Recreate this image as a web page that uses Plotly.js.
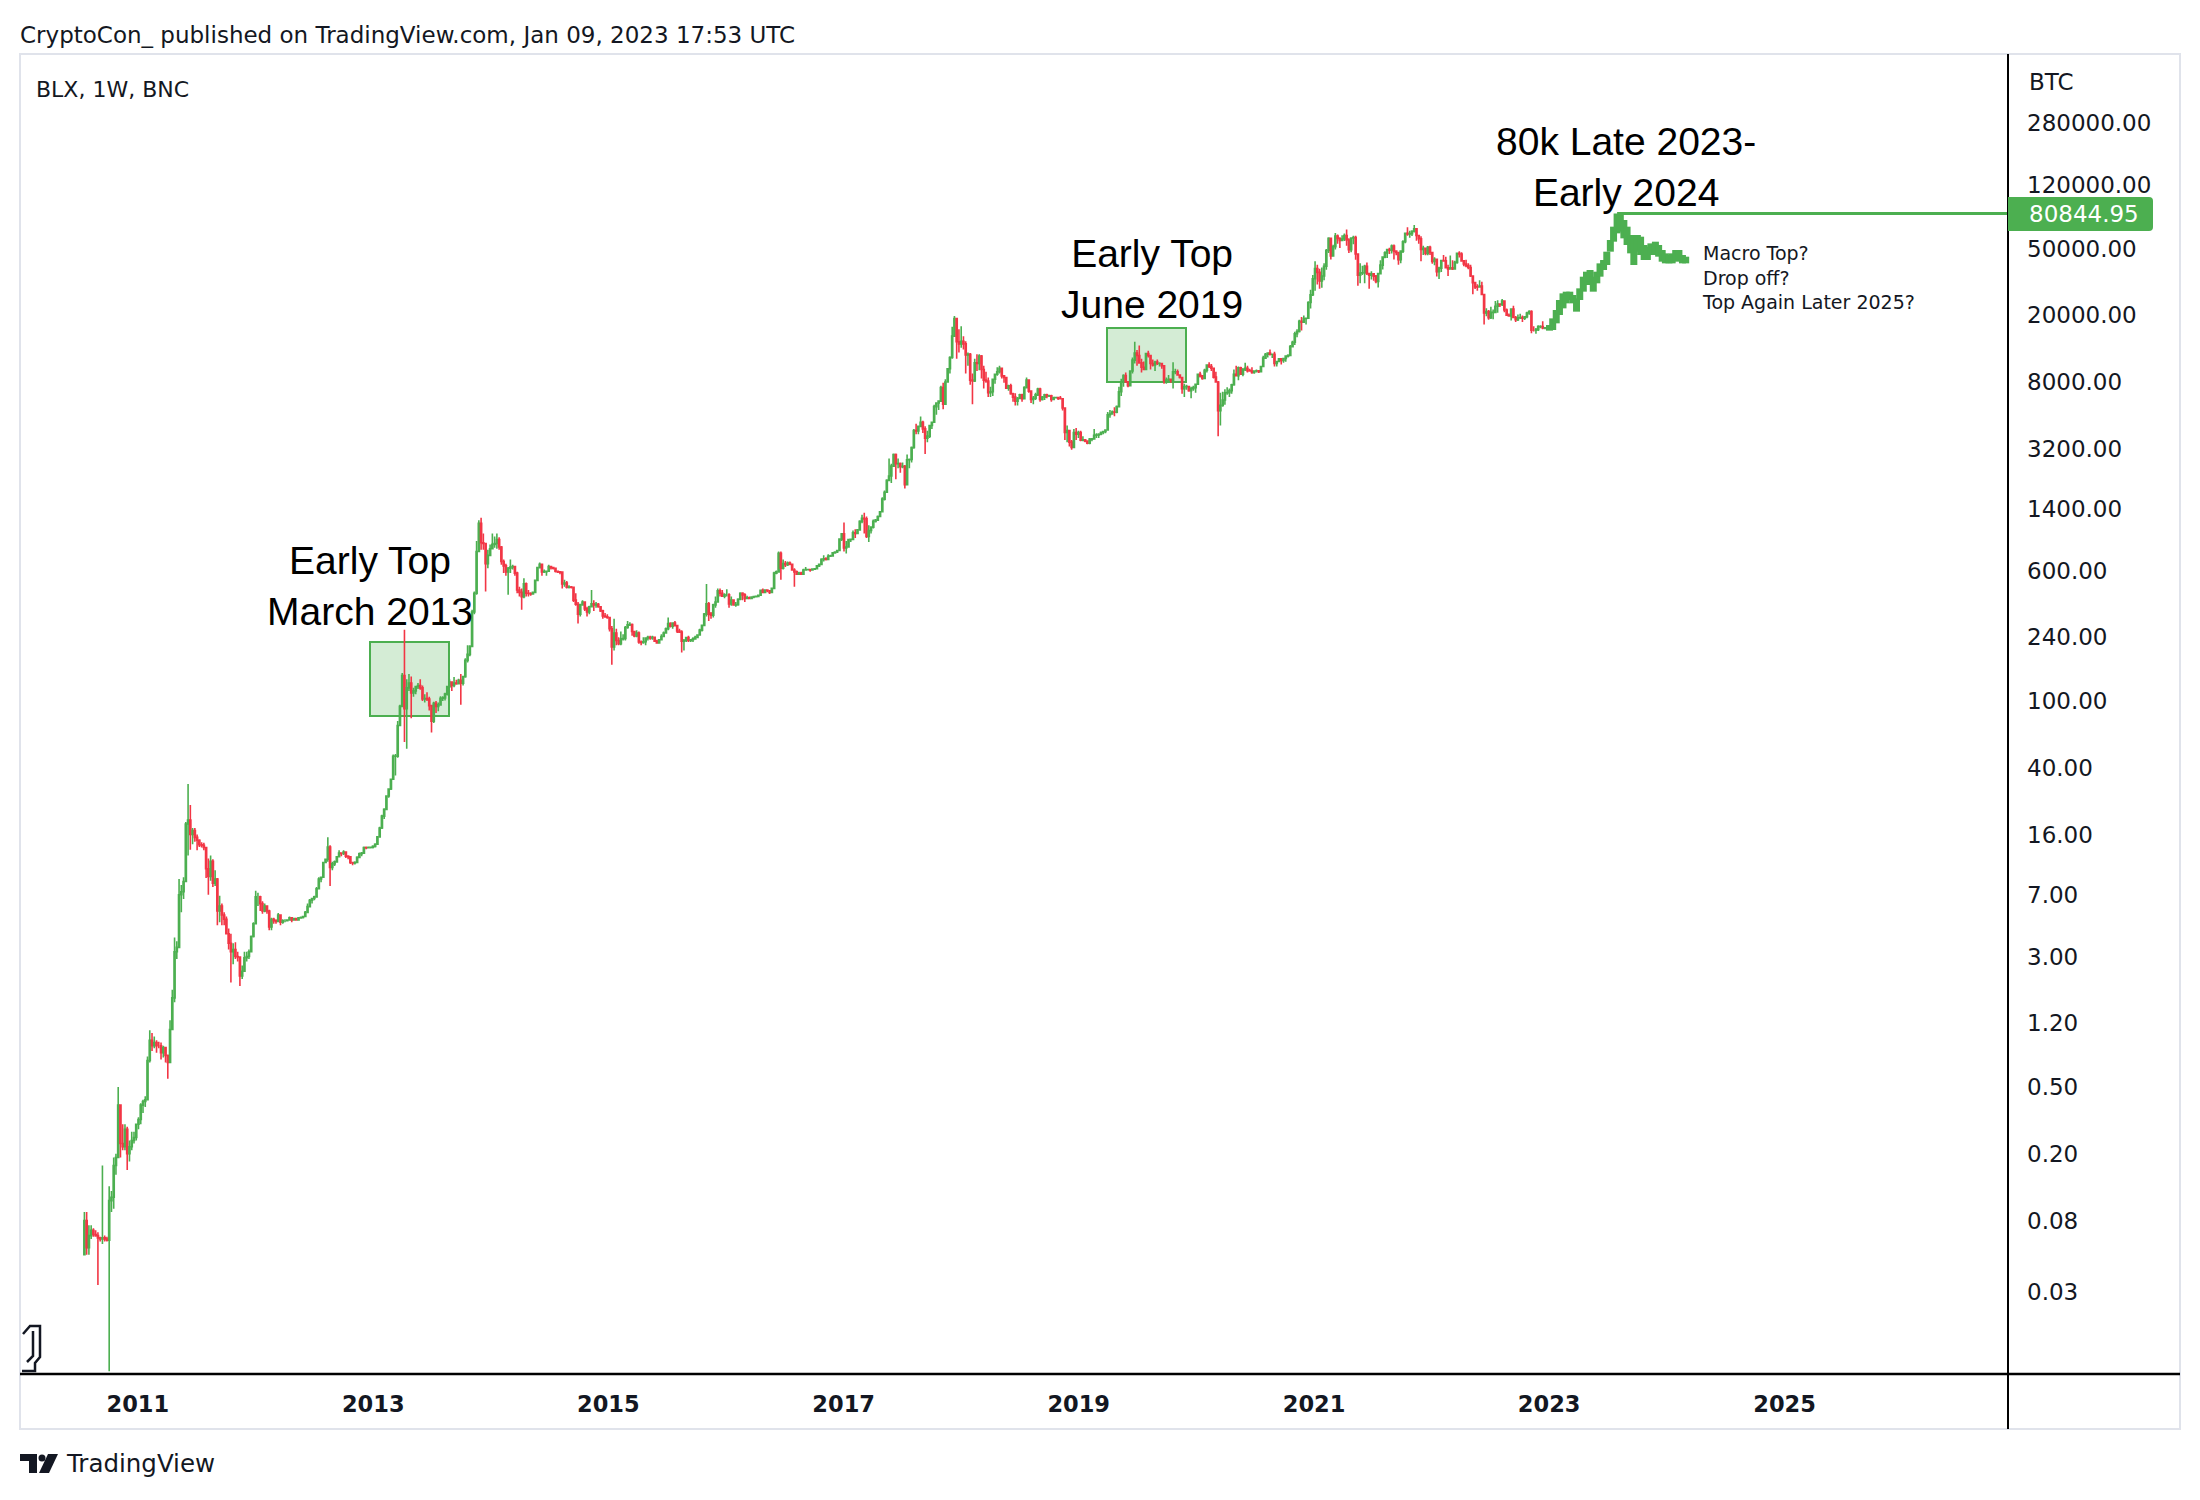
<!DOCTYPE html>
<html><head><meta charset="utf-8">
<script src="https://cdn.plot.ly/plotly-3.0.1.min.js"></script>
<style>html,body{margin:0;padding:0;background:#fff}#chart{width:2200px;height:1500px}</style>
</head><body><div id="chart"></div>
<script>
// ---------- DATA (weekly candles: [high, low, close]; open = previous close) ----------
const firstOpen = 0.05;
const yearStarts = ['2010-07-19','2011-01-03','2012-01-02','2013-01-07','2014-01-06','2015-01-05','2016-01-04','2017-01-02','2018-01-01','2019-01-07','2020-01-06','2021-01-04','2022-01-03','2023-01-02'];
const y2010 = [[0.09,0.05,0.08],[0.09,0.05,0.055],[0.075,0.05,0.065],[0.075,0.062,0.07],[0.072,0.064,0.066],[0.07,0.064,0.065],[0.068,0.033,0.063],[0.064,0.06,0.062],[0.17,0.058,0.063],[0.065,0.06,0.062],[0.064,0.06,0.061],[0.128,0.0101,0.105],[0.12,0.09,0.11],[0.19,0.094,0.17],[0.2,0.15,0.19],[0.5,0.19,0.39],[0.39,0.19,0.23],[0.3,0.21,0.22],[0.3,0.21,0.28],[0.29,0.16,0.2],[0.24,0.18,0.22],[0.27,0.21,0.24],[0.27,0.23,0.25],[0.3,0.24,0.3]];
const y2011 = [[0.33,0.28,0.32],[0.4,0.3,0.39],[0.42,0.35,0.41],[0.44,0.38,0.42],[0.76,0.42,0.72],[1.09,0.7,0.95],[1.05,0.82,0.88],[1.0,0.85,0.92],[0.95,0.8,0.88],[0.93,0.85,0.88],[0.92,0.73,0.8],[0.88,0.75,0.86],[0.86,0.7,0.77],[0.78,0.56,0.7],[1.25,0.7,1.1],[1.9,1.1,1.7],[3.9,1.6,3.2],[3.7,2.9,3.4],[8.7,3.4,7.0],[8.0,5.5,7.3],[8.9,6.6,8.4],[19,8.4,18.5],[32,12,19.5],[24,13,16],[17.5,14,16.9],[17.5,14.5,15.4],[16,12.9,14.8],[15,13.5,13.9],[14.4,13.4,13.8],[14.3,12.9,13.4],[13.4,8.8,10.0],[11.5,7.0,9.0],[12,8.5,11.1],[11.4,7.8,8.2],[9.8,7.9,8.7],[8.8,4.6,5.6],[6.9,4.8,6.0],[6.2,4.6,5.3],[5.5,4.6,5.0],[5.2,4.1,4.1],[4.4,3.3,3.6],[4.1,2.1,3.2],[3.6,2.7,3.3],[3.65,2.9,3.0],[3.2,2.8,2.98],[3.0,2.0,2.3],[2.65,2.2,2.45],[3.2,2.45,2.95],[3.2,2.8,3.0],[3.3,2.9,3.2],[4.0,3.2,3.95],[4.8,3.9,4.7]];
const y2012 = [[7.4,4.7,6.8],[7.2,6.0,6.8],[6.9,5.6,6.2],[6.4,5.4,5.6],[6.2,5.5,6.0],[6.0,5.4,5.6],[5.7,4.3,4.5],[5.1,4.3,5.0],[5.1,4.7,4.9],[5.0,4.7,4.85],[5.45,4.8,5.3],[5.3,4.6,4.8],[5.0,4.7,4.9],[5.0,4.8,4.9],[5.0,4.85,4.95],[5.2,4.9,5.1],[5.15,4.8,4.95],[5.1,4.9,5.05],[5.1,4.9,4.95],[5.15,4.95,5.1],[5.2,5.05,5.12],[5.25,5.05,5.2],[5.6,5.2,5.5],[6.2,5.5,5.95],[6.6,5.9,6.5],[6.7,6.2,6.65],[6.9,6.5,6.8],[7.8,6.8,7.6],[8.9,7.6,8.7],[9.0,8.3,8.9],[11.0,8.9,10.9],[11.5,10.8,11.4],[15.4,11.0,13.5],[13.8,7.9,10.2],[11.0,9.8,10.7],[11.2,10.4,11.0],[11.9,10.9,11.8],[12.9,11.7,12.4],[12.5,11.9,12.35],[12.9,12.1,12.6],[12.5,11.6,11.9],[12.0,11.4,11.8],[11.9,10.7,10.9],[11.0,10.5,10.85],[11.1,10.6,10.9],[11.9,10.8,11.7],[12.5,11.6,12.3],[12.6,11.9,12.4],[13.6,12.3,13.4],[13.6,13.1,13.35],[13.6,13.2,13.4],[13.5,13.2,13.45],[13.8,13.2,13.6]];
const y2013 = [[14.2,13.4,14.0],[15.6,14.0,15.5],[17.8,15.4,17.5],[21,17.3,20.6],[23,19.8,22.6],[27.5,22.5,27.2],[30,26.5,29.9],[34.5,29.5,34.2],[48,34,46.9],[48.4,36,47],[76,46,71.5],[95,71,93],[147,93,142],[266,57,90],[135,52,120],[145,115,128],[140,79,112],[120,106,115],[123,110,122],[128,118,124],[135,117,120],[124,100,103],[110,98,103.5],[113,100,103],[106,88,94],[95,65,76],[99,74,97],[100,85,93],[98,87,95],[107,94,104],[107,100,104.5],[112,101,110],[123,108,122],[135,120,130],[131,115,124],[139,121,128],[134,125,127],[136,126,133],[145,95,128],[141,124,140],[180,138,175],[215,170,190],[215,185,212],[350,210,340],[450,330,440],[900,430,780],[1200,780,1150],[1240,800,880],[1000,800,870],[880,450,660],[800,620,740],[860,730,810]];
const y2014 = [[1000,820,860],[960,820,870],[1000,810,920],[950,800,830],[840,650,680],[700,580,640],[660,560,590],[630,430,620],[700,580,630],[650,610,635],[640,560,580],[590,440,460],[480,420,445],[470,350,420],[540,410,500],[510,420,440],[460,420,438],[445,425,435],[450,430,445],[530,440,525],[630,525,625],[670,620,655],[660,560,590],[610,580,592],[600,560,595],[650,590,635],[640,610,625],[630,610,620],[625,585,595],[600,580,590],[595,570,588],[590,470,500],[530,480,505],[520,470,478],[490,470,479],[485,470,477],[480,390,400],[440,370,378],[390,290,330],[380,320,375],[400,370,390],[390,345,355],[365,320,340],[370,330,365],[460,365,380],[400,345,375],[390,360,378],[385,360,365],[365,340,345],[350,310,322],[335,315,318],[330,310,315]];
const y2015 = [[300,260,270],[280,165,210],[310,200,255],[270,215,230],[240,215,220],[260,215,235],[250,230,236],[280,230,275],[300,270,285],[295,280,286],[290,245,260],[260,240,245],[265,240,255],[260,220,225],[230,215,224],[240,220,226],[240,215,238],[245,230,240],[245,232,238],[245,232,240],[242,225,228],[232,220,222],[235,222,232],[250,230,243],[260,240,255],[275,254,270],[315,265,290],[295,275,280],[295,270,292],[300,280,282],[285,255,262],[270,255,258],[265,195,228],[235,200,230],[240,225,239],[245,225,230],[235,225,232],[240,225,235],[245,235,240],[250,240,248],[270,245,265],[285,260,283],[335,280,330],[500,320,380],[390,300,330],[340,310,325],[380,315,375],[420,360,390],[470,390,455],[470,420,440],[460,420,422],[440,410,430]];
const y2016 = [[465,420,430],[440,360,380],[420,370,400],[400,370,375],[390,365,376],[410,370,405],[445,400,440],[445,400,430],[440,390,410],[425,405,413],[420,405,410],[420,408,418],[425,410,420],[425,415,421],[430,418,428],[460,425,458],[470,440,445],[465,440,460],[460,445,455],[455,435,445],[475,440,470],[590,470,580],[600,570,590],[780,590,760],[780,530,620],[700,610,660],[685,630,650],[680,640,665],[680,645,655],[660,600,605],[620,480,590],[600,570,572],[590,565,580],[590,565,572],[615,565,605],[630,600,608],[612,600,609],[610,590,605],[615,600,612],[620,605,615],[645,612,640],[655,630,654],[710,650,700],[740,680,705],[720,690,700],[750,695,730],[745,725,735],[770,730,765],[780,755,775],[800,765,790],[930,790,925],[1000,900,995]];
const y2017 = [[1160,780,820],[900,760,830],[930,820,920],[930,890,921],[1040,915,1010],[1060,940,1000],[1060,990,1050],[1200,1045,1180],[1290,1150,1230],[1330,1000,1220],[1260,940,960],[1120,890,1040],[1100,1000,1090],[1210,1070,1180],[1220,1160,1200],[1280,1190,1260],[1350,1250,1345],[1640,1340,1600],[1800,1570,1760],[2100,1750,2070],[2800,2050,2200],[2600,2000,2520],[3000,2500,2950],[3000,2100,2600],[2800,2450,2610],[2650,2300,2500],[2650,2450,2510],[2560,1850,1950],[2950,1950,2750],[2800,2450,2760],[3300,2650,3250],[4200,3200,4100],[4500,3900,4080],[4400,3900,4350],[4970,4300,4600],[4700,3970,4200],[4350,2970,3700],[4100,3500,3800],[4450,3700,4400],[4650,4200,4600],[5850,4600,5700],[6000,5100,5990],[6200,5450,6150],[7600,6100,7400],[7900,5500,5900],[8300,5900,8000],[9700,7900,9600],[11400,9000,11200],[17100,11000,15000],[19800,15000,19100],[19200,11000,13900],[16500,12000,13500]];
const y2018 = [[17200,12800,14000],[15000,12500,13500],[14000,9000,11600],[12000,10000,11700],[11900,7700,8200],[9000,5900,8100],[11000,8000,10400],[11700,9300,10300],[11700,9400,11400],[11600,8400,9500],[10000,7300,8200],[9200,7900,8100],[8500,6500,6900],[7500,6500,7000],[8400,6600,8300],[9000,7800,8900],[9800,8700,9200],[9990,9000,9650],[9700,8400,8700],[8800,7900,8500],[8500,7300,7350],[7700,7100,7600],[7800,6700,6800],[6900,6100,6500],[6850,5800,6150],[6500,5800,6400],[6800,6300,6700],[6800,6100,6350],[7550,6300,7400],[8500,7400,8200],[8200,6900,7050],[7150,6000,6300],[6600,5900,6400],[6900,6250,6700],[7400,6600,7250],[7400,6100,6300],[6600,6200,6500],[6800,6250,6700],[6800,6400,6600],[6700,6500,6610],[6700,6100,6300],[6500,6300,6450],[6500,6400,6455],[6500,6250,6400],[6600,6300,6350],[6400,5400,5600],[5600,3600,4000],[4400,3500,4100],[4100,3300,3500],[3600,3150,3250],[4200,3250,4000],[4250,3600,3900],[4100,3700,4000]];
const y2019 = [[4100,3550,3600],[3800,3550,3610],[3650,3500,3550],[3550,3400,3450],[3700,3400,3650],[3700,3550,3660],[4200,3650,3850],[3950,3700,3860],[3950,3700,3900],[4050,3850,4000],[4100,3900,4050],[4150,3950,4140],[5300,4100,5100],[5450,4900,5150],[5400,5100,5300],[5650,5000,5280],[5800,5200,5700],[7500,5700,7000],[8350,6600,8000],[8900,7500,8750],[9100,8000,8000],[8100,7450,7600],[9400,7600,9300],[11200,9000,10800],[13900,10300,11900],[12400,10000,11500],[13200,10400,10400],[11000,9100,9800],[10600,9400,9500],[11800,9500,11800],[12300,11200,11500],[11500,9500,10300],[10900,9900,10100],[10700,9300,10500],[10900,10100,10300],[10500,9900,10310],[10400,9600,10000],[10000,7800,8100],[8500,7800,8200],[8800,8000,8300],[8400,7900,8200],[10500,7300,9200],[9600,8900,9210],[9500,8700,8800],[8900,8400,8500],[8500,6800,7300],[7800,6500,7500],[7700,7200,7510],[7600,7000,7100],[7500,6400,7300],[7600,7100,7400],[7800,6900,7750]];
const y2020 = [[8950,7700,8900],[9200,8500,8700],[8750,8250,8400],[9600,8300,9400],[10150,9100,10100],[10500,9700,9900],[10250,9300,9650],[9700,8400,8550],[9200,7900,8000],[8100,3800,5400],[6900,4400,5800],[7000,5700,6250],[7250,5850,6900],[7450,6700,6910],[7300,6500,7100],[7800,6800,7700],[9500,7600,8900],[10000,8700,8720],[9900,8200,9700],[9850,8800,8900],[9700,8650,9450],[10400,9300,9650],[10000,9100,9350],[9600,9200,9300],[9800,8950,9100],[9350,8950,9300],[9500,9100,9310],[9350,9050,9200],[9950,9150,9900],[11450,9900,11100],[11900,11000,11700],[12000,11200,11900],[12500,11500,11700],[11800,11100,11710],[12100,9900,10300],[10650,9900,10600],[11100,10600,11000],[11000,10150,10750],[11100,10400,11050],[11500,10550,11400],[11700,11200,11500],[13300,11400,13000],[14100,12900,13800],[15950,13300,15500],[16500,14800,16000],[18800,15800,18400],[19500,16200,18200],[19900,18000,19100],[19400,17600,19200],[24200,19000,23800],[28400,21900,26500],[34800,26000,33000]];
const y2021 = [[42000,28000,38000],[40000,30500,36000],[37800,28800,32000],[38500,29200,34300],[40800,32300,39200],[49700,37400,48600],[58300,47000,57500],[58000,43000,45200],[52600,45000,51200],[61800,49300,59300],[60600,53300,57400],[58400,50400,55800],[60000,55700,57000],[61500,55500,59800],[64900,52000,56200],[57500,47000,49100],[58400,47500,57800],[59500,53000,58200],[59600,42900,46400],[46700,30000,34700],[40800,31000,35700],[39500,34800,35800],[40000,31000,39100],[41300,34800,35500],[35800,28800,34700],[36600,32700,35300],[35400,32100,34200],[34800,31000,31800],[35500,29300,35400],[42500,35300,39800],[44800,37500,44400],[48100,43800,47100],[49400,43900,49300],[50500,46300,48800],[52900,46600,51700],[52900,43000,48200],[48800,45500,47300],[47400,40000,42800],[48500,40800,48200],[56000,47000,54800],[62000,53800,61500],[67000,59500,61000],[63700,58000,61300],[64300,59400,63300],[69000,62300,65500],[66300,55600,59700],[59500,53300,57200],[59200,42000,49400],[51900,45700,50100],[50500,45500,46700],[51800,45600,50800],[52000,45700,47300]];
const y2022 = [[47500,40500,41800],[44400,39700,43100],[43500,34000,36300],[38900,32900,38200],[42600,36200,42400],[45800,41700,42200],[44700,38000,38400],[40000,34300,37700],[45400,37500,38300],[42500,37200,37800],[42300,37600,41300],[47000,40500,46800],[48200,44200,46400],[47500,42000,42200],[42400,39200,40400],[42900,38600,39500],[40800,37600,38500],[40000,33800,34300],[34300,26700,31300],[31400,28700,29500],[30600,28000,29450],[32300,29300,29900],[31700,26500,26600],[26900,17600,20600],[22000,19700,21000],[21500,18800,19300],[22500,19000,20800],[21600,18900,20810],[24300,20800,22600],[24600,20700,23300],[23600,22400,23200],[25000,22700,24300],[24500,20800,21500],[21900,19900,20000],[20500,19600,19800],[21900,18600,21800],[22800,19300,19400],[19800,18200,18800],[20200,18500,19300],[20400,19000,19400],[19900,18200,19200],[19700,18700,19600],[21000,19200,20600],[21400,20100,21000],[21400,15600,16300],[17200,16000,16300],[16800,15500,16400],[17400,16100,17100],[17400,16700,17110],[18400,16500,16800],[17000,16500,16810],[16900,16300,16600]];
const y2023 = [[17200,16500,17100],[17500,17100,17200]];

// projected path (drawn bars pattern)
const projDates = ['2023-01-02','2023-01-12','2023-01-23','2023-02-02','2023-02-13','2023-02-23','2023-03-06','2023-03-16','2023-03-27','2023-04-06','2023-04-17','2023-04-27','2023-05-08','2023-05-18','2023-05-29','2023-06-08','2023-06-19','2023-06-29','2023-07-10','2023-07-20','2023-07-31','2023-08-10','2023-08-21','2023-08-31','2023-09-11','2023-09-21','2023-10-02','2023-10-12','2023-10-23','2023-11-02','2023-11-13','2023-11-27','2023-12-07','2023-12-18','2023-12-28','2024-01-08','2024-01-18','2024-01-29','2024-02-08','2024-02-19','2024-02-29'];
const projHigh = [17480,19160,21480,24650,27010,27630,27630,26400,25210,28930,33950,36360,37200,33950,36360,40770,42680,47850,56170,67460,80844.95,79160,73930,67460,60160,56170,60160,58800,52440,51250,53650,54890,52440,48960,46770,45710,46770,48960,48960,45710,44680];
const projLow  = [16180,16320,17890,20060,21980,23540,24650,23540,21000,24650,27630,30280,31700,27630,30990,33950,37200,39850,47850,54890,61550,62980,57470,52440,46770,39850,47850,45710,42680,42680,45710,45710,44680,41710,40770,40770,40770,41710,42680,40770,40770];

// axes
const priceTicks = [280000,120000,50000,20000,8000,3200,1400,600,240,100,40,16,7,3,1.2,0.5,0.2,0.08,0.03];
const priceTickText = priceTicks.map(v => v.toFixed(2));
const yearTicks = ['2011-01-01','2013-01-01','2015-01-01','2017-01-01','2019-01-01','2021-01-01','2023-01-01','2025-01-01'];
const yearTickText = ['2011','2013','2015','2017','2019','2021','2023','2025'];
const xRange = ['2009-12-31','2026-11-26'];
const yRangeLog = [-2.0125, 5.8587];

// ---------- BUILD ----------
const yearRows = [y2010,y2011,y2012,y2013,y2014,y2015,y2016,y2017,y2018,y2019,y2020,y2021,y2022,y2023];
function addDays(s, n){ const d = new Date(s + 'T00:00:00Z'); d.setUTCDate(d.getUTCDate() + n); return d.toISOString().slice(0,10); }
const X=[],O=[],H=[],L=[],C=[];
let prev = firstOpen;
yearRows.forEach((rows,k) => rows.forEach((r,i) => {
  X.push(addDays(yearStarts[k], 7*i)); O.push(prev); H.push(r[0]); L.push(r[1]); C.push(r[2]); prev = r[2];
}));

const GREEN = '#4caf50', RED = '#f23645', INK = '#131722';
const candles = {
  type:'candlestick', x:X, open:O, high:H, low:L, close:C,
  increasing:{line:{color:GREEN,width:1.6}, fillcolor:GREEN},
  decreasing:{line:{color:RED,width:1.6}, fillcolor:RED},
  whiskerwidth:0, hoverinfo:'skip', showlegend:false
};
const sx=[], sy=[];
projDates.forEach((d,i) => { sx.push(d,d,null); sy.push(projLow[i], projHigh[i], null); });
const projection = {type:'scatter', mode:'lines', x:sx, y:sy, line:{color:GREEN,width:7}, hoverinfo:'skip', showlegend:false};
const peakIdx = projHigh.indexOf(Math.max(...projHigh));
const peakVal = projHigh[peakIdx];
const priceLine = {type:'scatter', mode:'lines', x:[projDates[peakIdx], xRange[1]], y:[peakVal, peakVal], line:{color:GREEN,width:3}, hoverinfo:'skip', showlegend:false};

// pixel -> paper helpers (plot area: x 20..2008, y 54..1374)
const PL=20, PR=2008, PT=54, PB=1374;
const PX = x => (x-PL)/(PR-PL);
const PY = y => (PB-y)/(PB-PT);
const poly = pts => 'M ' + pts.map(p => PX(p[0]).toFixed(5)+','+PY(p[1]).toFixed(5)).join(' L ') + ' Z';
const openPath = pts => 'M ' + pts.map(p => PX(p[0]).toFixed(5)+','+PY(p[1]).toFixed(5)).join(' L ');

const shapes = [
  {type:'rect', xref:'paper', yref:'paper', x0:PX(20), x1:PX(2180), y0:PY(1429), y1:PY(54), line:{color:'#e0e3eb',width:2}, layer:'below'},
  {type:'rect', xref:'paper', yref:'paper', x0:PX(370), x1:PX(449), y0:PY(716), y1:PY(642), fillcolor:'rgba(76,175,80,0.24)', line:{color:GREEN,width:2}, layer:'below'},
  {type:'rect', xref:'paper', yref:'paper', x0:PX(1107), x1:PX(1186), y0:PY(382), y1:PY(328), fillcolor:'rgba(76,175,80,0.24)', line:{color:GREEN,width:2}, layer:'below'},
  {type:'line', xref:'paper', yref:'paper', x0:PX(20), x1:PX(2180), y0:PY(1374), y1:PY(1374), line:{color:'#000',width:2.5}},
  {type:'line', xref:'paper', yref:'paper', x0:PX(2008), x1:PX(2008), y0:PY(1429), y1:PY(54), line:{color:'#000',width:2}},
  {type:'path', xref:'paper', yref:'paper', path:'M '+PX(2008)+','+PY(197)+' L '+PX(2149)+','+PY(197)+' Q '+PX(2153)+','+PY(197)+' '+PX(2153)+','+PY(201)+' L '+PX(2153)+','+PY(227)+' Q '+PX(2153)+','+PY(231)+' '+PX(2149)+','+PY(231)+' L '+PX(2008)+','+PY(231)+' Z', fillcolor:GREEN, line:{width:0}},
  // TradingView logo mark
  {type:'path', xref:'paper', yref:'paper', path:poly([[20,1454],[37,1454],[37,1473],[29,1473],[29,1461],[20,1461]]), fillcolor:INK, line:{width:0}},
  {type:'circle', xref:'paper', yref:'paper', x0:PX(38.5), x1:PX(45.5), y0:PY(1461.5), y1:PY(1454.5), fillcolor:INK, line:{width:0}},
  {type:'path', xref:'paper', yref:'paper', path:poly([[48,1454],[58,1454],[49,1473],[39,1473]]), fillcolor:INK, line:{width:0}},
  // small chart icon bottom-left
  {type:'path', xref:'paper', yref:'paper', path:openPath([[23,1334],[30,1326],[40,1326],[40,1357],[35,1363],[35,1371],[22,1371]]), line:{color:INK,width:2.5}},
  {type:'path', xref:'paper', yref:'paper', path:openPath([[33,1331],[33,1356],[27,1362]]), line:{color:INK,width:2.5}}
];

const bigFont = {family:'Liberation Sans, Arial, sans-serif', size:39, color:'#000'};
const smallFont = {family:'DejaVu Sans', size:19, color:INK};
const A = (text,x,y,xa,font) => ({text, x:PX(x), y:PY(y), xref:'paper', yref:'paper', xanchor:xa, yanchor:'middle', align:xa==='left'?'left':'center', showarrow:false, font});
const annotations = [
  A('CryptoCon_ published on TradingView.com, Jan 09, 2023 17:53 UTC', 18, 35, 'left', {family:'DejaVu Sans', size:23, color:INK}),
  A('BLX, 1W, BNC', 34, 90, 'left', {family:'DejaVu Sans', size:22, color:INK}),
  A('BTC', 2027, 82, 'left', {family:'DejaVu Sans', size:23, color:INK}),
  A(peakVal.toFixed(2), 2027, 214, 'left', {family:'DejaVu Sans', size:23, color:'#ffffff'}),
  A('Early Top<br>March 2013', 370, 586, 'center', bigFont),
  A('Early Top<br>June 2019', 1152, 279, 'center', bigFont),
  A('80k Late 2023-<br>Early 2024', 1626, 167, 'center', bigFont),
  A('Macro Top?<br>Drop off?<br>Top Again Later 2025?', 1700, 277, 'left', smallFont),
  A('TradingView', 64, 1463, 'left', {family:'DejaVu Sans', size:24.5, color:INK})
];

const layout = {
  width:2200, height:1500,
  margin:{l:PL, r:2200-PR, t:PT, b:1500-PB, pad:0},
  paper_bgcolor:'#ffffff', plot_bgcolor:'#ffffff',
  showlegend:false, dragmode:false,
  font:{family:'DejaVu Sans', color:INK},
  xaxis:{type:'date', range:xRange, tickvals:yearTicks, ticktext:yearTickText, showgrid:false, zeroline:false, showline:false, ticks:'', ticklabelstandoff:14,
         tickfont:{family:'DejaVu Sans', size:22.5, color:INK, weight:700}, rangeslider:{visible:false}, fixedrange:true},
  yaxis:{type:'log', side:'right', range:yRangeLog, tickvals:priceTicks, ticktext:priceTickText, showgrid:false, zeroline:false, showline:false, ticks:'', ticklabelstandoff:18,
         tickfont:{family:'DejaVu Sans', size:23, color:INK}, fixedrange:true},
  shapes, annotations
};

Plotly.newPlot('chart', [candles, projection, priceLine], layout, {displayModeBar:false, staticPlot:true});
</script></body></html>
